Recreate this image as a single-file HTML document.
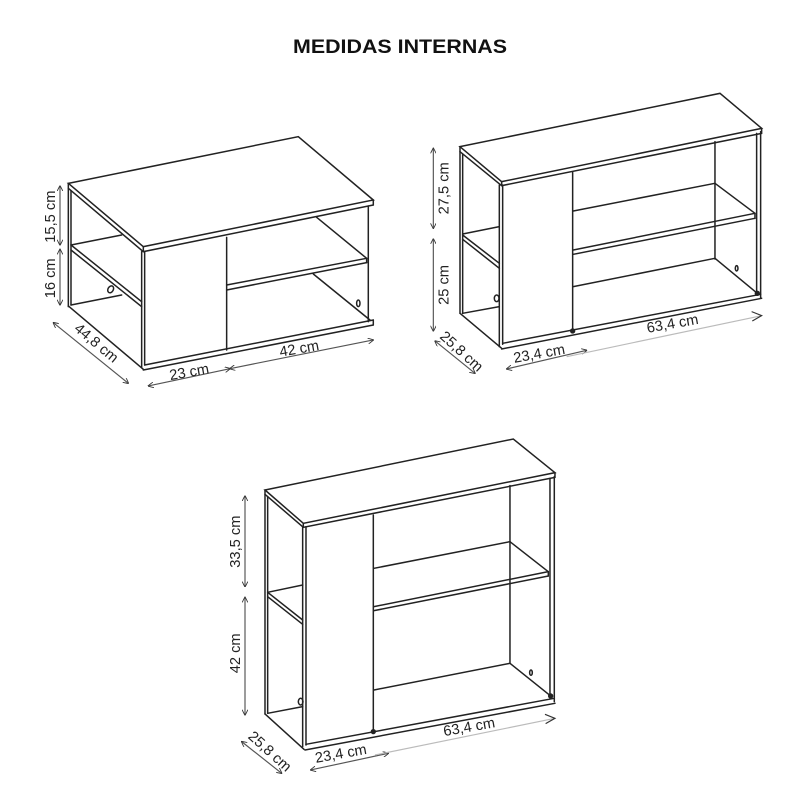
<!DOCTYPE html>
<html><head><meta charset="utf-8"><style>
html,body{margin:0;padding:0;background:#fff;width:800px;height:800px;overflow:hidden}
svg{display:block}
.l{stroke:#222;stroke-width:4.5;fill:none;stroke-linecap:round}
.d{stroke:#555;stroke-width:3.5;fill:none}
.g{stroke:#bbb;stroke-width:3.5;fill:none}
text{font-family:"Liberation Sans",sans-serif;fill:#222}
.t{font-size:44px}
</style></head><body>
<svg width="800" height="800" viewBox="0 0 800 800">
<defs>
<marker id="a" viewBox="0 0 10 10" refX="9" refY="5" markerWidth="5" markerHeight="5" orient="auto-start-reverse"><path d="M0,0 L10,5 L0,10" fill="none" stroke="#333" stroke-width="1.5"/></marker>
</defs>
<text x="400" y="53" text-anchor="middle" font-size="19" font-weight="bold" textLength="214" lengthAdjust="spacingAndGlyphs" style="fill:#111">MEDIDAS INTERNAS</text>

<!-- Drawing 1 -->
<g transform="translate(40,130) scale(0.3333)">
<polygon class="l" points="85,160 775,20 1000,210 310,350"/>
<polyline class="l" points="85,160 85,175 310,365 1000,225 1000,210"/>
<line class="l" x1="310" y1="350" x2="310" y2="365"/>
<line class="l" x1="85" y1="175" x2="85" y2="530"/>
<line class="l" x1="93" y1="182" x2="93" y2="525"/>
<line class="l" x1="305" y1="365" x2="305" y2="712"/>
<line class="l" x1="314" y1="365" x2="314" y2="705"/>
<line class="l" x1="314" y1="705" x2="1000" y2="570"/>
<line class="l" x1="310" y1="720" x2="1000" y2="585"/>
<line class="l" x1="1000" y1="570" x2="1000" y2="585"/>
<line class="l" x1="85" y1="528" x2="310" y2="718"/>
<line class="l" x1="985" y1="228" x2="985" y2="575"/>
<line class="l" x1="560" y1="322" x2="560" y2="660"/>
<line class="l" x1="560" y1="465" x2="980" y2="385"/>
<line class="l" x1="560" y1="480" x2="980" y2="398"/>
<line class="l" x1="980" y1="385" x2="980" y2="398"/>
<line class="l" x1="830" y1="262" x2="980" y2="385"/>
<line class="l" x1="820" y1="432" x2="990" y2="570"/>
<line class="l" x1="93" y1="345" x2="305" y2="515"/>
<line class="l" x1="93" y1="360" x2="305" y2="530"/>
<line class="l" x1="93" y1="345" x2="245" y2="315"/>
<line class="l" x1="93" y1="525" x2="245" y2="495"/>
<ellipse class="l" cx="212" cy="478" rx="8" ry="11" transform="rotate(30 212 478)"/>
<ellipse class="l" cx="955" cy="520" rx="5" ry="10"/>
<line class="d" x1="60" y1="168" x2="60" y2="345" marker-start="url(#a)" marker-end="url(#a)"/>
<line class="d" x1="60" y1="358" x2="60" y2="525" marker-start="url(#a)" marker-end="url(#a)"/>
<text class="t" transform="translate(45,260) rotate(-90)" text-anchor="middle">15,5 cm</text>
<text class="t" transform="translate(45,445) rotate(-90)" text-anchor="middle">16 cm</text>
<line class="d" x1="40" y1="578" x2="265" y2="760" marker-start="url(#a)" marker-end="url(#a)"/>
<text class="t" transform="translate(160,650) rotate(40)" text-anchor="middle">44,8 cm</text>
<line class="d" x1="325" y1="768" x2="570" y2="716" marker-start="url(#a)" marker-end="url(#a)"/>
<line class="d" x1="570" y1="716" x2="1000" y2="630" marker-start="url(#a)" marker-end="url(#a)"/>
<text class="t" transform="translate(450,740) rotate(-10)" text-anchor="middle">23 cm</text>
<text class="t" transform="translate(780,670) rotate(-10)" text-anchor="middle">42 cm</text>
</g>

<!-- Drawing 2 -->
<g transform="translate(420,85) scale(0.3333)">
<polygon class="l" points="120,185 900,25 1025,130 245,290"/>
<polyline class="l" points="120,185 120,200 245,302 1025,145 1025,130"/>
<line class="l" x1="245" y1="290" x2="245" y2="302"/>
<line class="l" x1="120" y1="200" x2="120" y2="685"/>
<line class="l" x1="128" y1="207" x2="128" y2="685"/>
<line class="l" x1="238" y1="300" x2="238" y2="785"/>
<line class="l" x1="248" y1="300" x2="248" y2="778"/>
<line class="l" x1="248" y1="775" x2="1022" y2="628"/>
<line class="l" x1="245" y1="792" x2="1025" y2="640"/>
<line class="l" x1="120" y1="685" x2="245" y2="790"/>
<line class="l" x1="1010" y1="145" x2="1010" y2="628"/>
<line class="l" x1="1022" y1="140" x2="1022" y2="638"/>
<line class="l" x1="458" y1="262" x2="458" y2="738"/>
<circle cx="458" cy="738" r="8" fill="#222"/>
<circle cx="1012" cy="625" r="8" fill="#222"/>
<line class="l" x1="885" y1="170" x2="885" y2="522"/>
<line class="l" x1="460" y1="378" x2="885" y2="295"/>
<line class="l" x1="885" y1="295" x2="1005" y2="385"/>
<line class="l" x1="460" y1="495" x2="1005" y2="385"/>
<line class="l" x1="460" y1="508" x2="1005" y2="400"/>
<line class="l" x1="1005" y1="385" x2="1005" y2="400"/>
<line class="l" x1="460" y1="605" x2="885" y2="520"/>
<line class="l" x1="885" y1="520" x2="1012" y2="625"/>
<line class="l" x1="128" y1="447" x2="238" y2="425"/>
<line class="l" x1="128" y1="450" x2="238" y2="535"/>
<line class="l" x1="128" y1="463" x2="238" y2="550"/>
<line class="l" x1="128" y1="685" x2="238" y2="665"/>
<ellipse class="l" cx="230" cy="640" rx="7" ry="10"/>
<ellipse class="l" cx="950" cy="550" rx="4" ry="8"/>
<line class="d" x1="40" y1="190" x2="40" y2="430" marker-start="url(#a)" marker-end="url(#a)"/>
<line class="d" x1="40" y1="462" x2="40" y2="738" marker-start="url(#a)" marker-end="url(#a)"/>
<text class="t" transform="translate(85,310) rotate(-90)" text-anchor="middle">27,5 cm</text>
<text class="t" transform="translate(85,600) rotate(-90)" text-anchor="middle">25 cm</text>
<line class="d" x1="45" y1="768" x2="165" y2="865" marker-start="url(#a)" marker-end="url(#a)"/>
<text class="t" transform="translate(115,810) rotate(42)" text-anchor="middle">25,8 cm</text>
<line class="d" x1="260" y1="852" x2="500" y2="796" marker-start="url(#a)" marker-end="url(#a)"/>
<line class="g" x1="440" y1="815" x2="1025" y2="692"/>
<path d="M995,680 L1025,692 L997,708" fill="none" stroke="#333" stroke-width="3.5"/>
<text class="t" transform="translate(360,820) rotate(-10)" text-anchor="middle">23,4 cm</text>
<text class="t" transform="translate(760,730) rotate(-10)" text-anchor="middle">63,4 cm</text>
</g>

<!-- Drawing 3 -->
<g transform="translate(220,440) scale(0.3333)">
<polygon class="l" points="135,150 880,-3 1005,98 250,250"/>
<polyline class="l" points="135,150 135,163 250,262 1005,112 1005,98"/>
<line class="l" x1="250" y1="250" x2="250" y2="262"/>
<line class="l" x1="135" y1="163" x2="135" y2="822"/>
<line class="l" x1="143" y1="170" x2="143" y2="820"/>
<line class="l" x1="248" y1="262" x2="248" y2="920"/>
<line class="l" x1="258" y1="260" x2="258" y2="915"/>
<line class="l" x1="258" y1="913" x2="1003" y2="775"/>
<line class="l" x1="255" y1="930" x2="1005" y2="790"/>
<line class="l" x1="135" y1="822" x2="252" y2="928"/>
<line class="l" x1="990" y1="115" x2="990" y2="772"/>
<line class="l" x1="1003" y1="110" x2="1003" y2="785"/>
<line class="l" x1="460" y1="225" x2="460" y2="875"/>
<circle cx="460" cy="875" r="8" fill="#222"/>
<circle cx="992" cy="768" r="8" fill="#222"/>
<line class="l" x1="870" y1="137" x2="870" y2="670"/>
<line class="l" x1="462" y1="385" x2="870" y2="305"/>
<line class="l" x1="870" y1="305" x2="985" y2="395"/>
<line class="l" x1="462" y1="500" x2="985" y2="395"/>
<line class="l" x1="462" y1="512" x2="985" y2="408"/>
<line class="l" x1="985" y1="395" x2="985" y2="408"/>
<line class="l" x1="462" y1="750" x2="870" y2="670"/>
<line class="l" x1="870" y1="670" x2="992" y2="768"/>
<line class="l" x1="143" y1="457" x2="248" y2="435"/>
<line class="l" x1="143" y1="457" x2="248" y2="540"/>
<line class="l" x1="143" y1="470" x2="248" y2="553"/>
<line class="l" x1="143" y1="820" x2="248" y2="800"/>
<ellipse class="l" cx="242" cy="785" rx="7" ry="10"/>
<ellipse class="l" cx="933" cy="698" rx="4" ry="8"/>
<line class="d" x1="75" y1="168" x2="75" y2="440" marker-start="url(#a)" marker-end="url(#a)"/>
<line class="d" x1="75" y1="472" x2="75" y2="825" marker-start="url(#a)" marker-end="url(#a)"/>
<text class="t" transform="translate(60,305) rotate(-90)" text-anchor="middle">33,5 cm</text>
<text class="t" transform="translate(60,640) rotate(-90)" text-anchor="middle">42 cm</text>
<line class="d" x1="65" y1="905" x2="185" y2="1000" marker-start="url(#a)" marker-end="url(#a)"/>
<text class="t" transform="translate(140,945) rotate(42)" text-anchor="middle">25,8 cm</text>
<line class="d" x1="272" y1="990" x2="505" y2="940" marker-start="url(#a)" marker-end="url(#a)"/>
<line class="g" x1="465" y1="945" x2="1005" y2="835"/>
<path d="M975,823 L1005,835 L977,851" fill="none" stroke="#333" stroke-width="3.5"/>
<text class="t" transform="translate(365,955) rotate(-10)" text-anchor="middle">23,4 cm</text>
<text class="t" transform="translate(750,875) rotate(-10)" text-anchor="middle">63,4 cm</text>
</g>
</svg>
</body></html>
